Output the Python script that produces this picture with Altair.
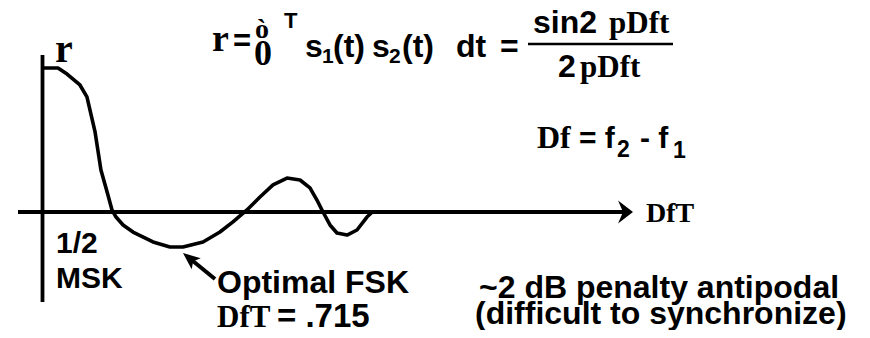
import altair as alt
import pandas as pd

# ---- curve values (x: ΔfT, y: ρ, schematic) ----
dft = [0.007, 0.114, 0.179, 0.271, 0.321, 0.379, 0.421, 0.471, 0.5, 0.529,
       0.579, 0.65, 0.793, 0.914, 1.007, 1.15, 1.271, 1.364, 1.464, 1.557,
       1.65, 1.75, 1.843, 1.914, 1.964, 2.007, 2.057, 2.107, 2.179, 2.25,
       2.321, 2.36]
rho = [1.0, 1.0, 0.958, 0.882, 0.799, 0.556, 0.292, 0.118, 0.014, -0.035,
       -0.09, -0.139, -0.208, -0.243, -0.243, -0.208, -0.139, -0.069, 0.014, 0.104,
       0.188, 0.236, 0.222, 0.167, 0.083, 0.0, -0.09, -0.146, -0.16, -0.125,
       -0.035, 0.0]

SANS = "Liberation Sans"
SERIF = "Liberation Serif"

# text segments: text, left x, baseline y (page px), family, size
labels = ["r", "r", "=", "ò", "0", "T", "s", "1", "(t)", "s", "2", "(t)", "dt", "=",
          "sin2", "pDft", "2", "pDft",
          "Df", "= f", "2", "- f", "1",
          "DfT", "1/2", "MSK", "Optimal FSK", "DfT", "= .715",
          "~2 dB penalty antipodal", "(difficult to synchronize)"]
lx = [55, 212, 233, 255, 254, 284, 305, 322, 333, 372, 389, 402, 456, 500,
      533, 609, 558, 580,
      537, 579, 617, 640, 673,
      646, 56, 56, 217, 217, 277,
      479, 475]
ly = [62, 51, 51, 38, 65, 28, 57, 63, 57, 57, 63, 57, 57, 57,
      33, 33, 77, 77,
      148, 148, 157, 148, 158,
      222, 253, 288, 293, 327, 327,
      298, 324]
lf = [SERIF, SERIF, SANS, SERIF, SERIF, SANS, SANS, SANS, SANS, SANS, SANS, SANS, SANS, SANS,
      SANS, SERIF, SANS, SERIF,
      SERIF, SANS, SANS, SANS, SANS,
      SERIF, SANS, SANS, SANS, SERIF, SANS,
      SANS, SANS]
ls = [40, 38, 31, 28, 36, 22, 32, 21, 32, 32, 21, 32, 32, 32,
      32, 31, 32, 31,
      32, 30, 23, 30, 23,
      28, 30, 30, 32, 31, 33,
      32, 32]

OFF = 8  # page margin
W, H = 854, 322

# scales: ΔfT 0 at page x=42 (140 px/unit); ρ 0 at page y=212 (144 px/unit)
x_dom = [-(42 - OFF) / 140, (W - (42 - OFF)) / 140]
y_dom = [((212 - OFF) - H) / 144, (212 - OFF) / 144]

curve_df = pd.DataFrame({"dft": dft, "rho": rho})
one = alt.Data(values=[{"a": 1}])

curve = alt.Chart(curve_df).mark_line(color="black", strokeWidth=3.6, strokeJoin="round").encode(
    x=alt.X("dft:Q", scale=alt.Scale(domain=x_dom, nice=False, zero=False), axis=None),
    y=alt.Y("rho:Q", scale=alt.Scale(domain=y_dom, nice=False, zero=False), axis=None),
    order="dft:Q",
)

def seg(x1, y1, x2, y2, w):
    return alt.Chart(one).mark_rule(color="black", strokeWidth=w).encode(
        x=alt.value(x1 - OFF), y=alt.value(y1 - OFF),
        x2=alt.value(x2 - OFF), y2=alt.value(y2 - OFF))

def head(cx, cy, size, angle, path):
    return alt.Chart(one).mark_point(shape=path, size=size, filled=True, color="black",
                                     opacity=1, angle=angle, strokeWidth=0).encode(
        x=alt.value(cx - OFF), y=alt.value(cy - OFF))

layers = [
    seg(42.5, 55, 42.5, 302, 3.8),      # vertical axis
    seg(18, 212, 624, 212, 3.8),        # horizontal axis
    head(621.5, 212, 529, 0, "M1,0L-0.3,-1L0.13,0L-0.3,1Z"),
    seg(188, 257, 215, 279, 4),         # annotation arrow shaft
    head(189.6, 258.4, 289, 219, "M1,0L-1,-0.85L-0.55,0L-1,0.85Z"),
    seg(528, 44, 673, 44, 2.5),         # fraction bar
    curve,
]

for t, x, y, f, s in zip(labels, lx, ly, lf, ls):
    layers.append(
        alt.Chart(one).mark_text(text=t, font=f, fontSize=s, fontWeight="bold",
                                 align="left", baseline="alphabetic", color="black").encode(
            x=alt.value(x - OFF), y=alt.value(y - OFF))
    )

chart = alt.layer(*layers).properties(
    width=W, height=H, padding=0, autosize="none", background="white"
).configure_view(strokeWidth=0)

chart.save("out.html", embed_options={"renderer": "svg", "actions": False})
